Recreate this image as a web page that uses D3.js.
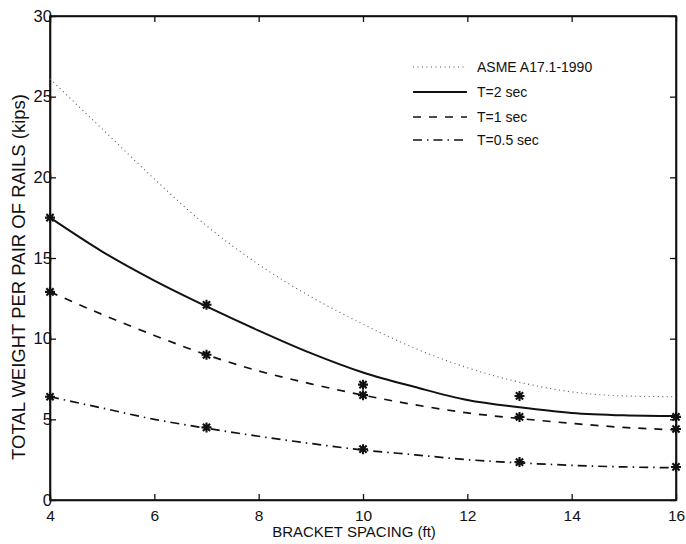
<!DOCTYPE html>
<html>
<head>
<meta charset="utf-8">
<script src="https://cdn.jsdelivr.net/npm/d3@7"></script>
<style>
  body { margin: 0; background: #fff; }
  text { font-family: "Liberation Sans", Arial, sans-serif; fill: #111; }
</style>
</head>
<body>
<div id="chart"></div>
<script>
// fitted curves, sampled at each foot of bracket spacing
var curveX = [4, 5, 6, 7, 8, 9, 10, 11, 12, 13, 14, 15, 16];
var asme = [26.1, 23.0, 19.9, 17.0, 14.6, 12.6, 10.9, 9.4, 8.2, 7.3, 6.7, 6.45, 6.4];
var t2Curve = [17.5, 15.4, 13.6, 12.0, 10.5, 9.1, 7.9, 7.0, 6.2, 5.75, 5.4, 5.25, 5.2];
var t1Curve = [12.9, 11.5, 10.2, 9.0, 8.0, 7.2, 6.5, 5.9, 5.4, 5.05, 4.75, 4.5, 4.35];
var t05Curve = [6.4, 5.7, 5.0, 4.45, 3.95, 3.5, 3.1, 2.8, 2.5, 2.3, 2.15, 2.05, 2.0];

// computed points (asterisks)
var pointX = [4, 7, 10, 13, 16];
var t2Pts = [17.5, 12.1, 7.15, 6.45, 5.15];
var t1Pts = [12.9, 9.0, 6.5, 5.15, 4.4];
var t05Pts = [6.4, 4.5, 3.15, 2.35, 2.05];

var xTicks = [4, 6, 8, 10, 12, 14, 16];
var yTicks = [0, 5, 10, 15, 20, 25, 30];
var legendLabels = ["ASME A17.1-1990", "T=2 sec", "T=1 sec", "T=0.5 sec"];

var W = 686, H = 544;
var margin = {top: 16, right: 10, bottom: 44, left: 50};
var width = W - margin.left - margin.right,
    height = H - margin.top - margin.bottom;

var x = d3.scaleLinear().domain([4, 16]).range([0, width]);
var y = d3.scaleLinear().domain([0, 30]).range([height, 0]);

var svg = d3.select("#chart").append("svg")
    .attr("width", W).attr("height", H)
  .append("g")
    .attr("transform", "translate(" + margin.left + "," + margin.top + ")");

// box with inward ticks on all sides
var tickLen = 6;
svg.append("g").attr("transform", "translate(0," + height + ")")
  .call(d3.axisBottom(x).tickValues(xTicks).tickSizeInner(-tickLen).tickSizeOuter(0).tickPadding(10))
  .call(function (g) { g.selectAll("text").style("font-size", "15.5px"); });
svg.append("g")
  .call(d3.axisTop(x).tickValues(xTicks).tickSizeInner(-tickLen).tickSizeOuter(0).tickFormat(""));
svg.append("g")
  .call(d3.axisLeft(y).tickValues(yTicks).tickSizeInner(-tickLen).tickSizeOuter(0).tickPadding(3))
  .call(function (g) { g.selectAll("text").style("font-size", "16.5px").attr("dx", "0.3em"); });
svg.append("g").attr("transform", "translate(" + width + ",0)")
  .call(d3.axisRight(y).tickValues(yTicks).tickSizeInner(-tickLen).tickSizeOuter(0).tickFormat(""));

svg.selectAll(".domain").attr("stroke", "#111").attr("stroke-width", 1.6);
svg.selectAll(".tick line").attr("stroke", "#111").attr("stroke-width", 1.3);
svg.selectAll(".tick text").style("font-family", "'Liberation Sans', Arial, sans-serif").attr("fill", "#111");
svg.append("rect").attr("width", width).attr("height", height)
  .attr("fill", "none").attr("stroke", "#111").attr("stroke-width", 1.6);

var series = [
  {vals: asme, dash: "1,3.5", w: 1.1, color: "#555"},
  {vals: t2Curve, dash: null, w: 2, color: "#111"},
  {vals: t1Curve, dash: "8,8", w: 1.7, color: "#111"},
  {vals: t05Curve, dash: "9,5,1.5,5", w: 1.7, color: "#111"}
];

var line = d3.line()
  .x(function (d) { return x(d[0]); })
  .y(function (d) { return y(d[1]); })
  .curve(d3.curveMonotoneX);

series.forEach(function (s) {
  svg.append("path")
    .datum(d3.zip(curveX, s.vals))
    .attr("d", line)
    .attr("fill", "none")
    .attr("stroke", s.color)
    .attr("stroke-width", s.w)
    .attr("stroke-dasharray", s.dash);
});

// asterisk markers
var star = function (r) {
  var a = r * 0.72;
  return "M" + (-r) + ",0H" + r + "M0," + (-r) + "V" + r +
    "M" + (-a) + "," + (-a) + "L" + a + "," + a +
    "M" + (-a) + "," + a + "L" + a + "," + (-a);
};
[t2Pts, t1Pts, t05Pts].forEach(function (pts) {
  svg.selectAll(null).data(d3.zip(pointX, pts)).enter().append("path")
    .attr("transform", function (d) { return "translate(" + x(d[0]) + "," + y(d[1]) + ")"; })
    .attr("d", star(5))
    .attr("stroke", "#111")
    .attr("stroke-width", 2.1)
    .attr("fill", "none");
});

// legend
var leg = svg.append("g").attr("transform", "translate(363,51)");
legendLabels.forEach(function (lab, i) {
  var s = series[i];
  var yy = [0, 25, 50, 73][i];
  leg.append("line")
    .attr("x1", 0).attr("x2", 54).attr("y1", yy).attr("y2", yy)
    .attr("stroke", s.color).attr("stroke-width", s.w)
    .attr("stroke-dasharray", s.dash);
  leg.append("text").attr("x", 64).attr("y", yy + 5)
    .style("font-size", "14px").text(lab);
});

// axis titles
svg.append("text")
  .attr("x", width / 2 - 9).attr("y", height + 37)
  .attr("text-anchor", "middle").style("font-size", "15px")
  .text("BRACKET SPACING (ft)");
svg.append("text")
  .attr("transform", "rotate(-90)")
  .attr("x", -(277 - margin.top)).attr("y", -margin.left + 25)
  .attr("text-anchor", "middle").style("font-size", "18.5px")
  .text("TOTAL WEIGHT PER PAIR OF RAILS (kips)");
</script>
</body>
</html>
